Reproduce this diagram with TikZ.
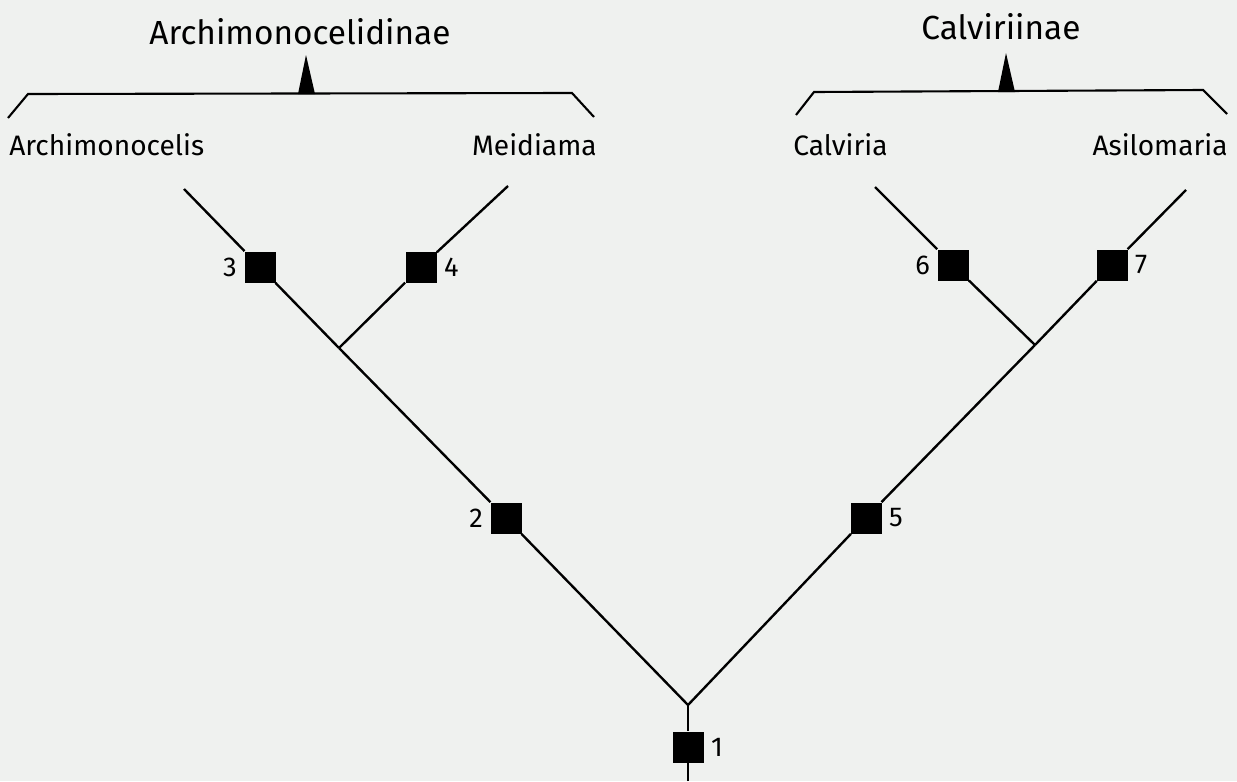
\documentclass[tikz,border=0pt]{standalone}
\usepackage{fontspec}
\setmainfont{Fira Sans}
\usepackage{xcolor}
\usetikzlibrary{positioning}
\definecolor{paper}{RGB}{239,241,239}

\begin{document}
\begin{tikzpicture}[x=0.02cm, y=-0.02cm]
    % Style definitions
    \tikzset{
        branch/.style={black, line width=1.35pt},
        apo/.style={fill=black, minimum size=0.62cm, inner sep=0pt},
        num/.style={font=\fontsize{15.5}{17}\selectfont, inner sep=0pt},
        taxon/.style={font=\fontsize{16}{18}\selectfont, inner sep=0pt},
        group/.style={font=\fontsize{19}{22}\selectfont, inner sep=0pt},
        bracket/.style={black, line width=1.2pt, line join=miter}
    }

    \fill[paper] (0,0) rectangle (1237,781);
    \useasboundingbox (0,0) rectangle (1237,781);

    % ==========================================
    % FORKS AND TIPS
    % ==========================================
    \coordinate (root) at (688,781);
    \coordinate (f0) at (688,705);
    \coordinate (fL) at (339,348);
    \coordinate (fR) at (1035,345);
    \coordinate (tA) at (184,189);
    \coordinate (tM) at (508,186);
    \coordinate (tC) at (875,187);
    \coordinate (tS) at (1186,190);

    % Apomorphies (black squares)
    \node[apo, label={[num, label distance=0.14cm]right:1}] (n1) at (688,747) {};
    \node[apo, label={[num, label distance=0.14cm]left:2}] (n2) at (506,518) {};
    \node[apo, label={[num, label distance=0.14cm]left:3}] (n3) at (260,267) {};
    \node[apo, label={[num, label distance=0.14cm]right:4}] (n4) at (421,267) {};
    \node[apo, label={[num, label distance=0.14cm]right:5}] (n5) at (866,518) {};
    \node[apo, label={[num, label distance=0.14cm]left:6}] (n6) at (953,265) {};
    \node[apo, label={[num, label distance=0.14cm]right:7}] (n7) at (1112,265) {};

    % Branches
    \draw[branch] (root) -- (n1) -- (f0);
    \draw[branch] (f0) -- (n2) -- (fL);
    \draw[branch] (fL) -- (n3) -- (tA);
    \draw[branch] (fL) -- (n4) -- (tM);
    \draw[branch] (f0) -- (n5) -- (fR);
    \draw[branch] (fR) -- (n6) -- (tC);
    \draw[branch] (fR) -- (n7) -- (tS);

    % ==========================================
    % TERMINAL TAXA AND SUBFAMILIES
    % ==========================================
    \node[taxon, anchor=base west] (archimonocelis) at (9,155) {Archimonocelis};
    \node[taxon, anchor=base east] (meidiama) at (597,155) {Meidiama};
    \node[taxon, anchor=base west] (calviria) at (793,155) {Calviria};
    \node[taxon, anchor=base east] (asilomaria) at (1228,155) {Asilomaria};

    \node[group, anchor=base] (archimonocelidinae) at (300,44) {Archimonocelidinae};
    \node[group, anchor=base] (calviriinae) at (1001,39) {Calviriinae};

    % Brackets with pointers
    \draw[bracket] (8,118) -- (28,94) -- (572,93) -- (594,117);
    \fill (298,94) -- (306,55) -- (315,94) -- cycle;
    \draw[bracket] (796,115) -- (814,92) -- (1203,90) -- (1227,114);
    \fill (998,92) -- (1006,53) -- (1015,92) -- cycle;
\end{tikzpicture}
\end{document}
